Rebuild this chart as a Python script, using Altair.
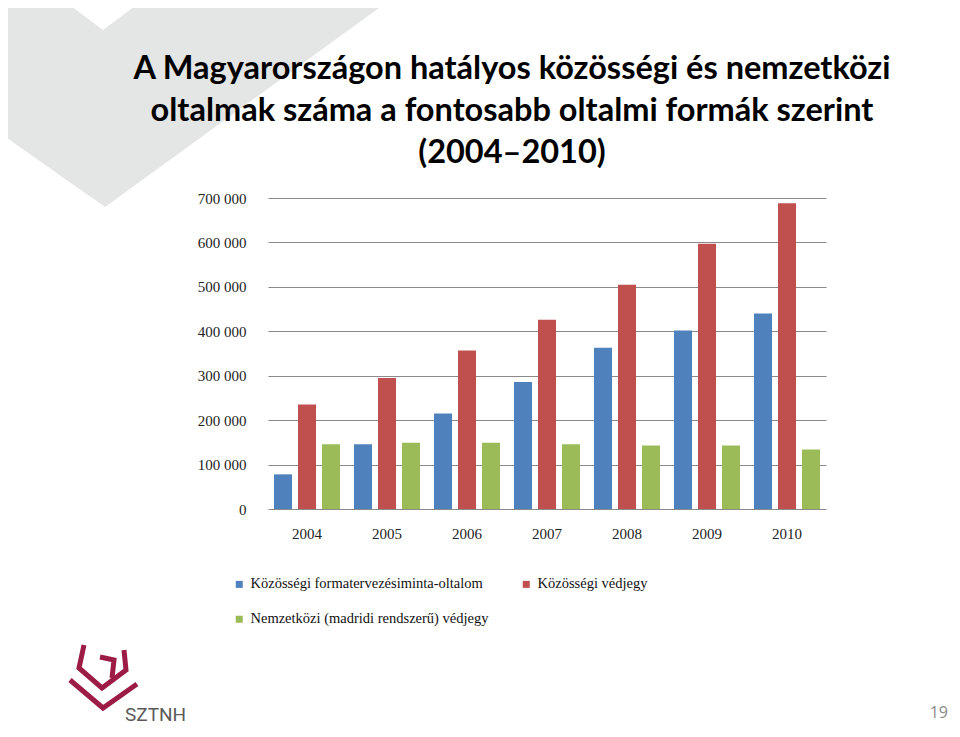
import altair as alt
import pandas as pd

years = ["2004", "2005", "2006", "2007", "2008", "2009", "2010"]
series = [
    "Közösségi formatervezésiminta-oltalom",
    "Közösségi védjegy",
    "Nemzetközi (madridi rendszerű) védjegy",
]
design = [78000, 146000, 215000, 286000, 363000, 402000, 440000]
ctm = [235000, 295000, 357000, 426000, 505000, 597000, 688000]
madrid = [146000, 149000, 149000, 146000, 143000, 143000, 134000]
colors = ["#4F81BD", "#C0504D", "#9BBB59"]
y_ticks = [0, 100000, 200000, 300000, 400000, 500000, 600000, 700000]

title_lines = [
    "A Magyarországon hatályos közösségi és nemzetközi",
    "oltalmak száma a fontosabb oltalmi formák szerint",
    "(2004–2010)",
]

rows = []
for s, vals in zip(series, [design, ctm, madrid]):
    for yr, v in zip(years, vals):
        rows.append({"year": yr, "series": s, "value": v})
df = pd.DataFrame(rows)

# legend grid fills column by column: order entries so that the layout reads
# blue, red on the first row and green on the second
legend_order = [series[0], series[2], series[1]]
legend_colors = [colors[0], colors[2], colors[1]]

# ---- background decoration (grey chevron) in pixel space ----
chev = pd.DataFrame({
    "px": [-268, -205, -165, -163, -125, 122],
    "top": [-198, -198, -168, -169.5, -198, -198],
    "bot": [-65, -20.6, 7.6, 9, -18.6, -198],
})
chevron = alt.Chart(chev).mark_area(color="#e4e5e5", orient="vertical").encode(
    x=alt.X("px:Q", scale=None, axis=None),
    y=alt.Y("top:Q", scale=None, axis=None),
    y2="bot:Q",
)

# ---- logo strokes ----
logo = pd.DataFrame({
    "seg": ["a"] * 5 + ["b"] * 3 + ["c"] * 3,
    "ord": list(range(5)) + list(range(3)) + list(range(3)),
    "px": [84, 79, 102, 126, 124, 70, 103, 137, 100, 114, 112],
    "py": [645, 668, 688, 670, 650, 680, 708, 684, 657, 660, 678],
})
logo["px"] = logo["px"] - 268
logo["py"] = logo["py"] - 198
logo_marks = alt.Chart(logo).mark_line(color="#9c1c45", strokeWidth=5, strokeJoin="miter").encode(
    x=alt.X("px:Q", scale=None, axis=None),
    y=alt.Y("py:Q", scale=None, axis=None),
    detail="seg:N",
    order="ord:Q",
)
one = alt.Data(values=[{}])
logo_text = alt.Chart(one).mark_text(
    text="SZTNH", font="Roboto", fontSize=19, color="#5a5a5a", align="left", baseline="alphabetic"
).encode(x=alt.value(-143), y=alt.value(523))
page_no = alt.Chart(one).mark_text(
    text="19", font="Open Sans", fontSize=16, color="#8a8a8a", align="right", baseline="alphabetic"
).encode(x=alt.value(680), y=alt.value(520))

title = alt.Chart(one).mark_text(
    text=title_lines, font="Lato", fontSize=32.5, fontWeight="bold", color="#000000",
    align="center", baseline="alphabetic", lineHeight=42,
).encode(x=alt.value(244), y=alt.value(-119))

bars = alt.Chart(df).mark_bar().encode(
    x=alt.X("year:N", sort=years, title=None,
            scale=alt.Scale(paddingInner=0.175, paddingOuter=0.075),
            axis=alt.Axis(labelAngle=0, domain=False, ticks=False, labelPadding=17,
                          labelFont="Liberation Serif", labelFontSize=15, labelColor="#222")),
    xOffset=alt.XOffset("series:N", sort=series,
                        scale=alt.Scale(paddingInner=0.25, paddingOuter=0)),
    y=alt.Y("value:Q", title=None, scale=alt.Scale(domain=[0, 700000], nice=False),
            axis=alt.Axis(values=y_ticks, domain=False, ticks=False, labelPadding=22,
                          gridColor="#8a8a8a", gridWidth=1.2,
                          labelFont="Liberation Serif", labelFontSize=15, labelColor="#222",
                          labelExpr="datum.value == 0 ? '0' : format(datum.value/1000, 'd') + ' 000'")),
    color=alt.Color("series:N",
                    scale=alt.Scale(domain=legend_order, range=legend_colors),
                    legend=alt.Legend(title=None, orient="none", legendX=-36, legendY=379,
                                      columns=2, symbolType="square", symbolSize=49,
                                      symbolStrokeWidth=0,
                                      labelFont="Liberation Serif", labelFontSize=14.5,
                                      labelColor="#111", rowPadding=20, columnPadding=30,
                                      labelOffset=4, labelLimit=400)),
)

chart = alt.layer(chevron, title, bars, logo_marks, logo_text, page_no).resolve_scale(
    x="independent", y="independent"
).properties(
    width=558, height=311, autosize="none",
    padding={"left": 260, "top": 190, "right": 126, "bottom": 220},
    background="white",
).configure_view(stroke=None)

chart.save("out.html", embed_options={"renderer": "svg", "actions": False})
